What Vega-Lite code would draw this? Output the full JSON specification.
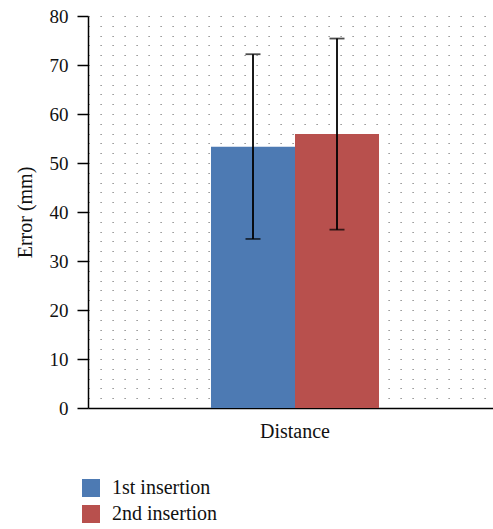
{
  "$schema": "https://vega.github.io/schema/vega-lite/v6.json",
  "autosize": {"type": "none"},
  "padding": {"left": 88, "top": 16, "right": 0, "bottom": 121},
  "width": 405,
  "height": 392,
  "background": "white",
  "config": {
    "view": {"stroke": null},
    "font": "Liberation Serif, serif",
    "axis": {"labelFont": "Liberation Serif, serif", "titleFont": "Liberation Serif, serif", "labelColor": "#111", "titleColor": "#111"},
    "legend": {"labelFont": "Liberation Serif, serif"}
  },
  "data": {
    "values": [
      {"cat": "Distance", "series": "1st insertion", "mean": 53.3, "lower": 34.5, "upper": 72.2},
      {"cat": "Distance", "series": "2nd insertion", "mean": 55.9, "lower": 36.4, "upper": 75.4}
    ]
  },
  "encoding": {
    "x": {
      "field": "cat", "type": "nominal",
      "scale": {"paddingInner": 0, "paddingOuter": 0.7054, "align": 0.519},
      "axis": {"title": null, "labelAngle": 0, "ticks": false, "labelPadding": 13, "labelFont": "Liberation Serif, serif", "labelFontSize": 20, "domainColor": "#000", "domainWidth": 1.5, "labelFontWeight": "normal"}
    },
    "xOffset": {"field": "series", "type": "nominal", "scale": {"paddingInner": 0, "paddingOuter": 0}}
  },
  "layer": [
    {
      "mark": {"type": "bar"},
      "encoding": {
        "y": {
          "field": "mean", "type": "quantitative",
          "scale": {"domain": [0, 80], "nice": false},
          "axis": {
            "orient": "left", "title": null, "labels": false, "ticks": false, "domain": false,
            "grid": true, "gridColor": "#777", "gridWidth": 1.2, "gridDash": [1.2, 10.8],
            "values": [2,4,6,8,10,12,14,16,18,20,22,24,26,28,30,32,34,36,38,40,42,44,46,48,50,52,54,56,58,60,62,64,66,68,70,72,74,76,78,80]
          }
        },
        "color": {
          "field": "series", "type": "nominal",
          "scale": {"domain": ["1st insertion", "2nd insertion"], "range": ["#4D7AB3", "#B8504D"]},
          "legend": {
            "title": null, "orient": "none", "legendX": -7, "legendY": 462,
            "symbolType": "square", "symbolSize": 324, "symbolStrokeWidth": 0, "symbolOpacity": 1,
            "labelFont": "Liberation Serif, serif", "labelFontSize": 20, "labelColor": "#111", "labelOffset": 11,
            "rowPadding": 6, "padding": 0
          }
        }
      }
    },
    {
      "mark": {"type": "rule", "color": "#000", "strokeWidth": 1.8},
      "encoding": {
        "y": {
          "field": "lower", "type": "quantitative",
          "axis": {
            "orient": "left", "title": "Error (mm)", "titleFont": "Liberation Serif, serif", "titleFontSize": 20, "titleFontWeight": "normal", "titlePadding": 14,
            "values": [0,10,20,30,40,50,60,70,80], "labelFont": "Liberation Serif, serif", "labelFontSize": 19, "labelPadding": 9,
            "tickSize": 11, "tickColor": "#000", "tickWidth": 1.5, "domainColor": "#000", "domainWidth": 1.5, "grid": false
          }
        },
        "y2": {"field": "upper"}
      }
    },
    {
      "mark": {"type": "tick", "color": "#000", "thickness": 1.8, "size": 15, "orient": "horizontal"},
      "encoding": {"y": {"field": "upper", "type": "quantitative", "axis": null}}
    },
    {
      "mark": {"type": "tick", "color": "#000", "thickness": 1.8, "size": 15, "orient": "horizontal"},
      "encoding": {"y": {"field": "lower", "type": "quantitative", "axis": null}}
    }
  ],
  "resolve": {"axis": {"y": "independent"}}
}
